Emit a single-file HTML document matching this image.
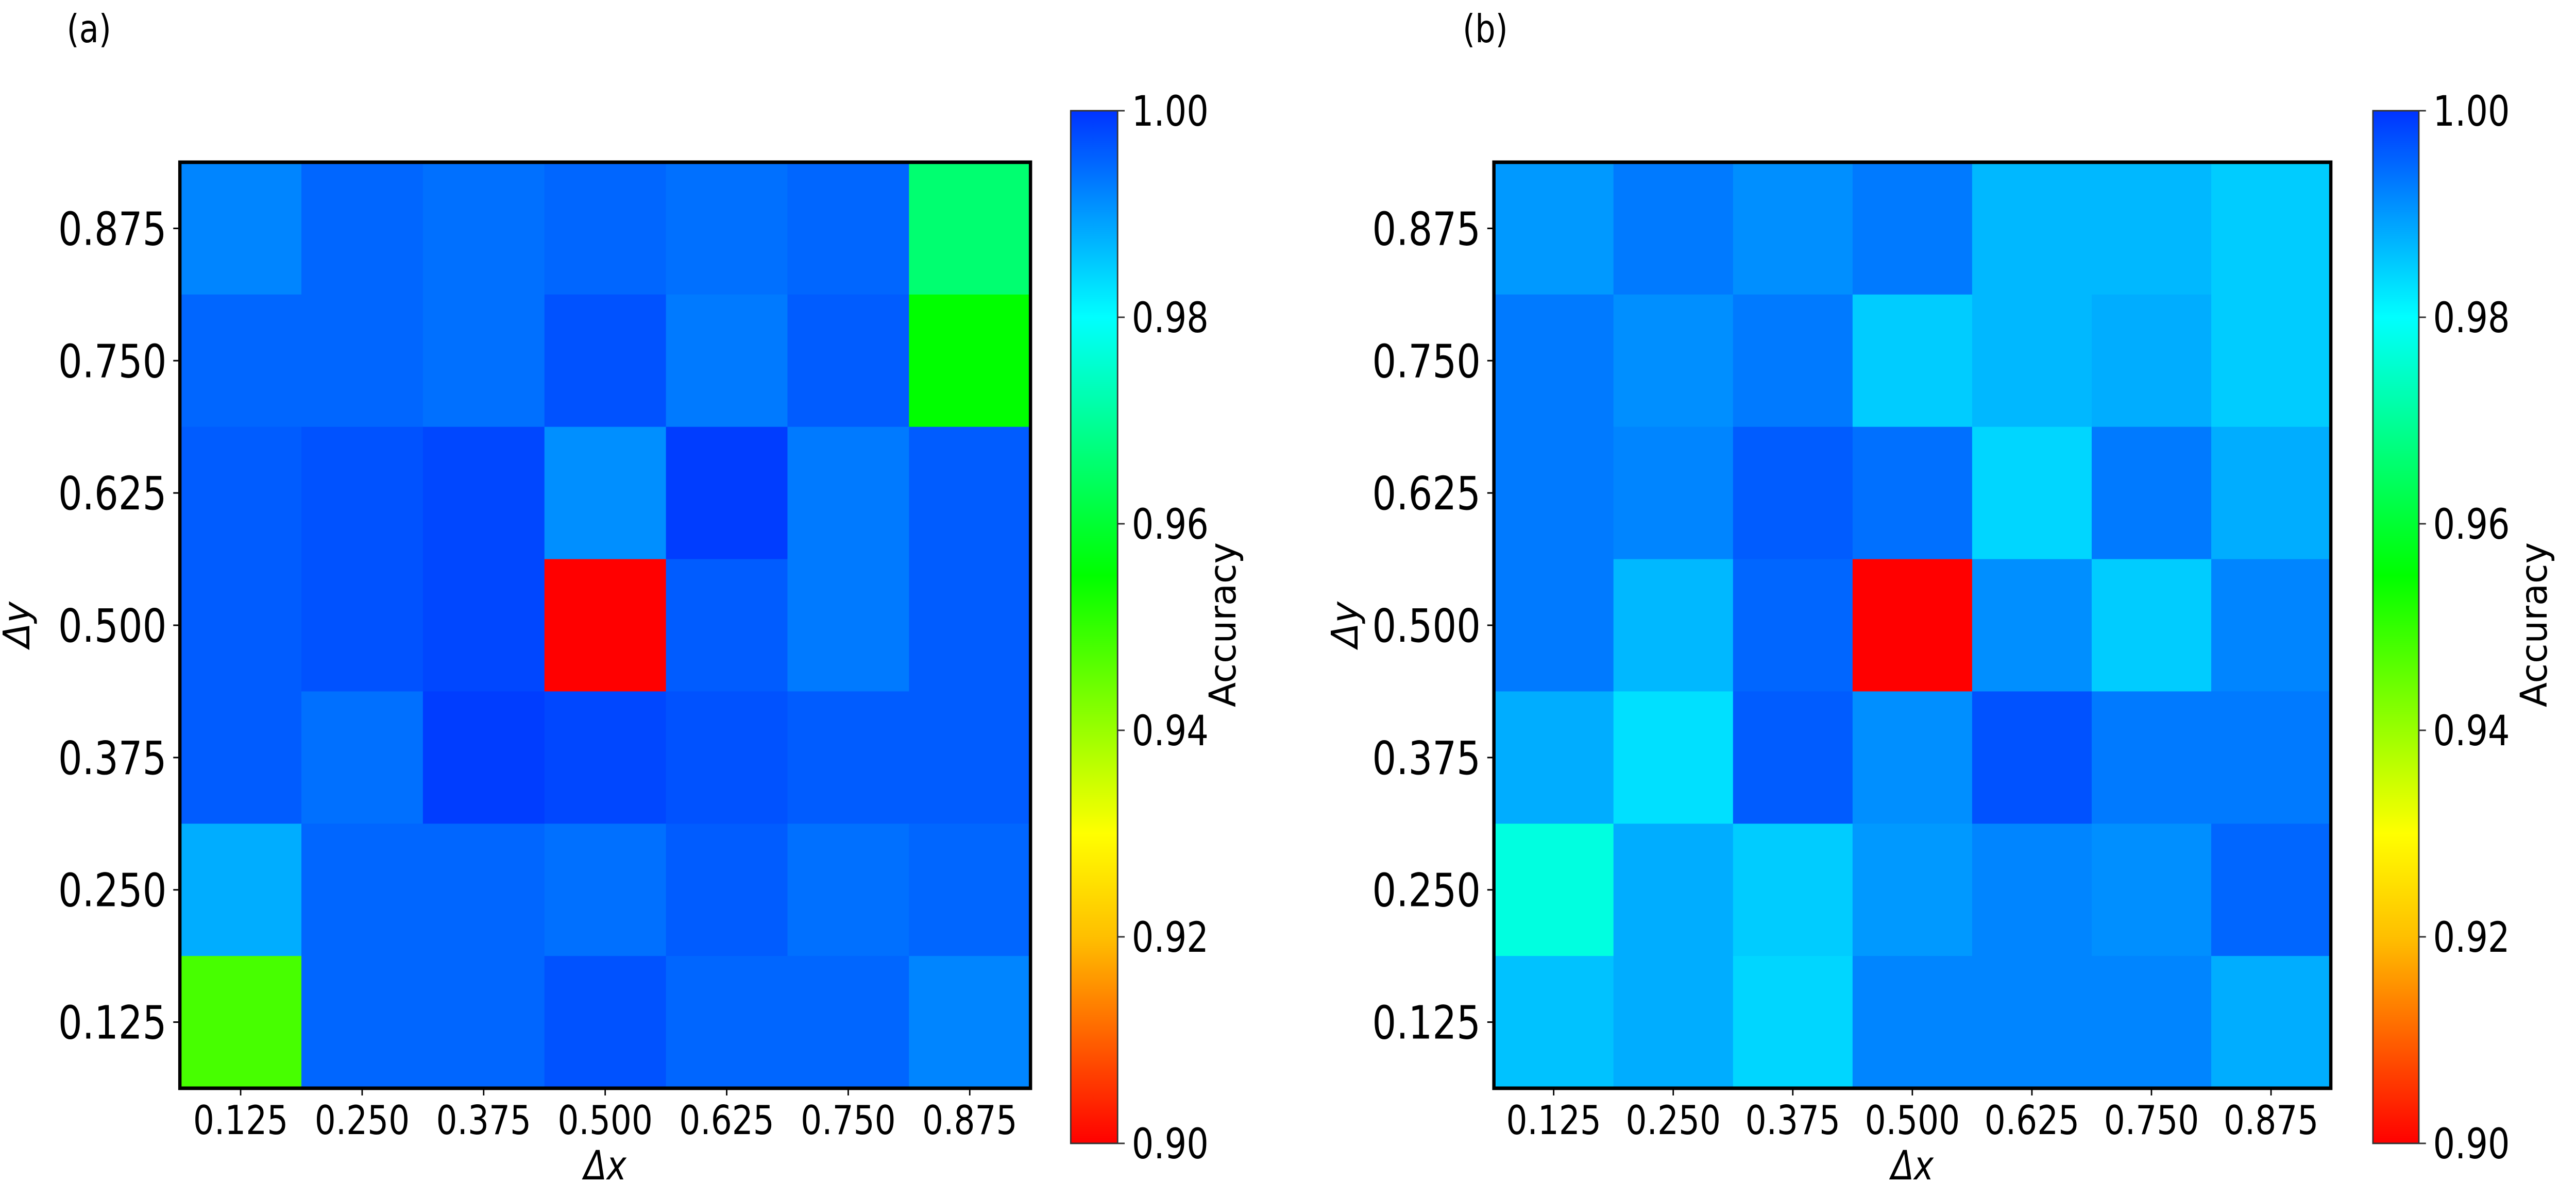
<!DOCTYPE html>
<html><head><meta charset="utf-8"><style>
html,body{margin:0;padding:0;background:#fff;overflow:hidden;width:100%;height:100%;}
svg{display:block;width:100vw;height:100vh;}
text{font-family:"DejaVu Sans Condensed","DejaVu Sans","Liberation Sans",sans-serif;fill:#000;}
</style></head><body>
<svg id="fig" xmlns="http://www.w3.org/2000/svg" viewBox="0 0 5442 2295" preserveAspectRatio="none">
<defs id="defs"></defs>
</svg>
<script>
// ---- data ----
const xCategories = ["0.125","0.250","0.375","0.500","0.625","0.750","0.875"];
const yCategories = ["0.875","0.750","0.625","0.500","0.375","0.250","0.125"]; // top to bottom
const cbarTicks = [0.90,0.92,0.94,0.96,0.98,1.00];
const cbarTickLabels = ["0.90","0.92","0.94","0.96","0.98","1.00"];
const valuesA = [
 [0.992,0.995,0.994,0.995,0.994,0.995,0.966],
 [0.995,0.995,0.994,0.997,0.993,0.996,0.955],
 [0.996,0.997,0.998,0.991,0.999,0.993,0.996],
 [0.996,0.997,0.998,0.900,0.996,0.993,0.996],
 [0.996,0.994,0.999,0.998,0.997,0.996,0.996],
 [0.988,0.995,0.995,0.994,0.996,0.994,0.995],
 [0.948,0.995,0.995,0.997,0.995,0.995,0.992]
];
const valuesB = [
 [0.990,0.993,0.991,0.993,0.987,0.987,0.985],
 [0.993,0.991,0.993,0.985,0.987,0.988,0.985],
 [0.993,0.992,0.996,0.994,0.984,0.993,0.988],
 [0.993,0.987,0.995,0.900,0.991,0.985,0.992],
 [0.988,0.983,0.996,0.991,0.997,0.993,0.993],
 [0.977,0.988,0.985,0.990,0.992,0.991,0.995],
 [0.986,0.988,0.984,0.992,0.992,0.992,0.988]
];
const vmin = 0.90, vmax = 1.00;

const NS = "http://www.w3.org/2000/svg";
const svg = document.getElementById('fig');
const defs = document.getElementById('defs');

function hueOf(v){
  const s=[[0.90,0],[0.92,45],[0.93,60],[0.955,120],[0.98,180],[1.00,228]];
  v=Math.max(vmin,Math.min(vmax,v));
  for(let i=0;i<s.length-1;i++){
    if(v<=s[i+1][0]){const t=(v-s[i][0])/(s[i+1][0]-s[i][0]);return s[i][1]+t*(s[i+1][1]-s[i][1]);}
  }
  return 228;
}
function color(v){return 'hsl('+hueOf(v).toFixed(1)+',100%,50%)';}
function el(tag,attrs,parent){const e=document.createElementNS(NS,tag);for(const k in attrs)e.setAttribute(k,attrs[k]);(parent||svg).appendChild(e);return e;}
function txt(s,x,y,size,anchor,parent,rot){
  const t=el('text',{x:x,y:y,'font-size':size,'text-anchor':anchor||'start'},parent);
  if(rot)t.setAttribute('transform','rotate('+rot+' '+x+' '+y+')');
  t.textContent=s;return t;
}

const grad=el('linearGradient',{id:'cmap',x1:0,y1:1,x2:0,y2:0},defs);
for(let i=0;i<=100;i++){const v=vmin+(vmax-vmin)*i/100;el('stop',{offset:(i)+'%','stop-color':color(v)},grad);}

function panel(opts){
  const g=el('g',{});
  
  
  const L=opts.left,T=315,R=opts.right,B=2113;
  const n=xCategories.length,cw=(R-L)/n,ch=(B-T)/yCategories.length;
  const xs=i=>L+cw*i, ys=j=>T+ch*j;
  for(let j=0;j<yCategories.length;j++)for(let i=0;i<n;i++){
    const r=el('rect',{x:xs(i),y:ys(j),width:cw+0.6,height:ch+0.6,fill:color(opts.values[j][i])},g);
    
    
  }
  const fr=el('rect',{x:L,y:T,width:R-L,height:B-T,fill:'none',stroke:'#000','stroke-width':7},g);
  
  
  xCategories.forEach((c,i)=>{
    const cx=xs(i)+cw/2;
    el('line',{x1:cx,y1:B,x2:cx,y2:B+14,stroke:'#000','stroke-width':3},g);
    const t=txt(c,cx,2202,78,'middle',g);
    
    
  });
  yCategories.forEach((c,j)=>{
    const cy=ys(j)+ch/2;
    el('line',{x1:L-14,y1:cy,x2:L,y2:cy,stroke:'#000','stroke-width':3},g);
    const t=txt(c,L-28,cy+32,89,'end',g);
    
    
  });
  const xl=txt('Δx',(L+R)/2,2290,78,'middle',g);
  xl.setAttribute('font-style','italic');
  
  
  const yl=txt('Δy',opts.ylabX,1213,78,'middle',g,-90);
  yl.setAttribute('font-style','italic');
  
  
  const pl=txt(opts.label,opts.labelX,82,75,'start',g);
  
  
  const cbL=opts.cbL,cbR=opts.cbR,cbT=215,cbB=2220;
  const cb=el('rect',{x:cbL,y:cbT,width:cbR-cbL,height:cbB-cbT,fill:'url(#cmap)',stroke:'#333','stroke-width':3},g);
  
  
  const cy=v=>cbB-(v-vmin)/(vmax-vmin)*(cbB-cbT);
  cbarTicks.forEach((v,k)=>{
    el('line',{x1:cbR,y1:cy(v),x2:cbR+15,y2:cy(v),stroke:'#333','stroke-width':3},g);
    const t=txt(cbarTickLabels[k],cbR+30,cy(v)+29,81,'start',g);
    
    
  });
  const at=txt('Accuracy',opts.accX,1213,78,'middle',g,-90);
  
  
}
panel({name:'heatmap-a',left:380,right:2177,values:valuesA,cbL:2262,cbR:2361,label:'(a)',labelX:141,ylabX:62,accX:2610});
panel({name:'heatmap-b',left:3156,right:4924,values:valuesB,cbL:5013,cbR:5110,label:'(b)',labelX:3090,ylabX:2868,accX:5380});
</script>
</body></html>
